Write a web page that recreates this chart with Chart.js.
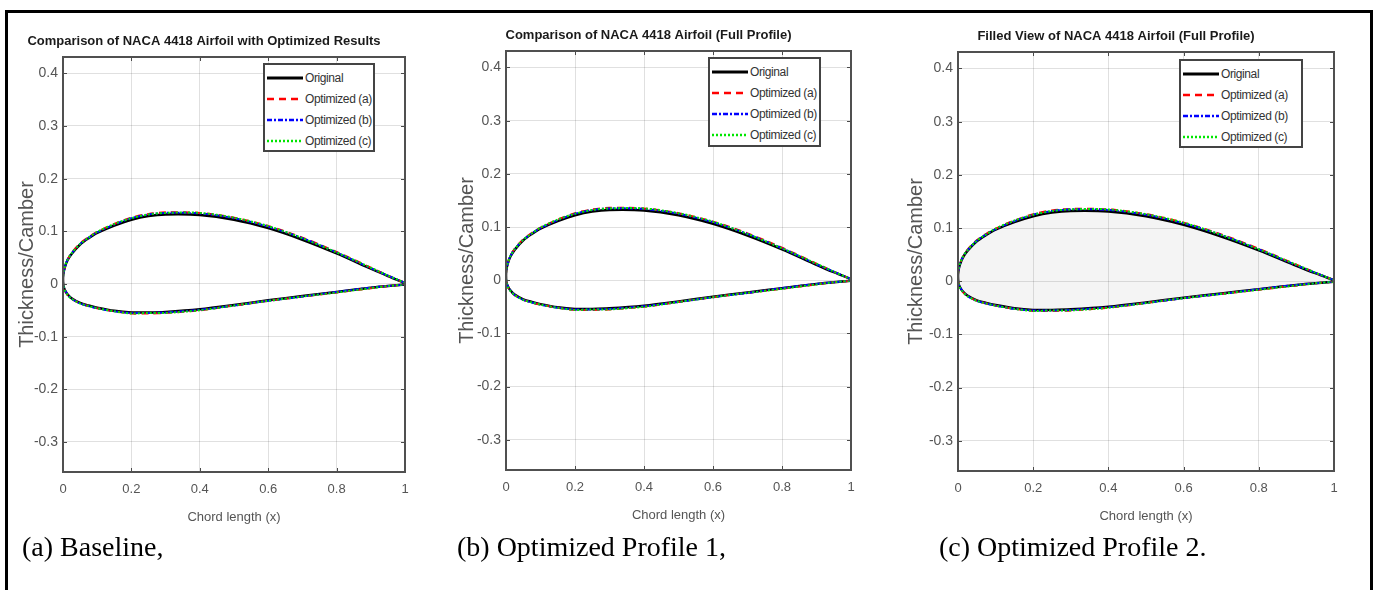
<!DOCTYPE html>
<html>
<head>
<meta charset="utf-8">
<script src="https://cdn.jsdelivr.net/npm/chart.js@4.4.1/dist/chart.umd.min.js"></script>
<style>
    body { margin: 0; width: 1377px; height: 590px; overflow: hidden; position: relative; background: #fff; }
    .frame { position: absolute; left: 5px; top: 10px; width: 1362px; height: 600px; border: 3px solid #000; border-bottom: none; }
    .panel { position: absolute; }
    .legend { position: absolute; background: #fff; border: 2px solid #444; box-sizing: border-box; padding: 2px 0 0 2px; }
    .legend-row { display: flex; align-items: center; height: 21px; }
    .legend-row svg { flex-shrink: 0; }
    .legend-row span { font-family: 'Liberation Sans', Arial, sans-serif; font-size: 12px; color: #333; margin-left: 2px; white-space: nowrap; letter-spacing: -0.4px; }
    .caption { position: absolute; top: 531px; font-family: 'Liberation Serif', 'Times New Roman', serif; font-size: 28px; line-height: 32px; color: #000; white-space: nowrap; }
</style>
</head>
<body>
<div class="frame"></div>
<div id="root"></div>
<script>
// tick values and labels
const xTicks = [0, 0.2, 0.4, 0.6, 0.8, 1];
const yTicks = [-0.3, -0.2, -0.1, 0, 0.1, 0.2, 0.3, 0.4];

const seriesNames = ['Original', 'Optimized (a)', 'Optimized (b)', 'Optimized (c)'];
const panelTitles = [
    'Comparison of NACA 4418 Airfoil with Optimized Results',
    'Comparison of NACA 4418 Airfoil (Full Profile)',
    'Filled View of NACA 4418 Airfoil (Full Profile)'
];
const captions = ['(a) Baseline,', '(b) Optimized Profile 1,', '(c) Optimized Profile 2.'];

// airfoil outline: upper surface TE -> LE, then lower surface LE -> TE
const chordX = [1.0, 0.95, 0.9, 0.8, 0.7, 0.6, 0.5, 0.4, 0.3, 0.25, 0.2, 0.15, 0.1, 0.075, 0.05, 0.025, 0.0125, 0.005, 0.001, 0.0,
                0.001, 0.005, 0.0125, 0.025, 0.05, 0.075, 0.1, 0.15, 0.2, 0.25, 0.3, 0.4, 0.5, 0.6, 0.7, 0.8, 0.9, 0.95, 1.0];

const yOriginal = [0.002, 0.015, 0.029, 0.058, 0.084, 0.106, 0.122, 0.131, 0.132, 0.129, 0.122, 0.111, 0.097, 0.087, 0.075, 0.057, 0.044, 0.031, 0.019, 0.009,
                   -0.003, -0.011, -0.019, -0.027, -0.036, -0.041, -0.045, -0.051, -0.054, -0.054, -0.053, -0.048, -0.040, -0.031, -0.023, -0.015, -0.007, -0.004, -0.001];
const yOptA = [0.002, 0.016, 0.031, 0.061, 0.088, 0.110, 0.126, 0.135, 0.136, 0.133, 0.126, 0.114, 0.099, 0.089, 0.077, 0.059, 0.045, 0.032, 0.020, 0.009,
               -0.003, -0.012, -0.020, -0.028, -0.037, -0.042, -0.046, -0.052, -0.056, -0.056, -0.055, -0.050, -0.041, -0.032, -0.024, -0.016, -0.008, -0.004, -0.001];
const yOptB = [0.002, 0.016, 0.030, 0.060, 0.087, 0.109, 0.125, 0.134, 0.135, 0.132, 0.125, 0.113, 0.098, 0.088, 0.076, 0.058, 0.045, 0.031, 0.019, 0.009,
               -0.003, -0.011, -0.019, -0.028, -0.037, -0.042, -0.046, -0.052, -0.055, -0.055, -0.054, -0.049, -0.041, -0.032, -0.024, -0.015, -0.007, -0.004, -0.001];
const yOptC = [0.002, 0.016, 0.031, 0.060, 0.087, 0.110, 0.126, 0.135, 0.135, 0.132, 0.125, 0.114, 0.099, 0.088, 0.076, 0.058, 0.045, 0.032, 0.020, 0.009,
               -0.003, -0.012, -0.020, -0.028, -0.037, -0.042, -0.046, -0.052, -0.056, -0.055, -0.055, -0.050, -0.041, -0.032, -0.024, -0.016, -0.008, -0.004, -0.001];

const seriesY = [yOriginal, yOptA, yOptB, yOptC];

const lineStyles = [
    { color: '#000000', width: 2.5, dash: [] },
    { color: '#ff0000', width: 2, dash: [7, 5] },
    { color: '#0000ff', width: 2, dash: [5, 2, 2, 2] },
    { color: '#00e600', width: 2, dash: [2, 2] }
];

// plot area boxes in page pixels (left, right, top, bottom) + legend boxes
const panels = [
    { L: 63,  R: 405,  T: 57, B: 472, yTitlePad: 12, legend: { x: 263,  y: 63, w: 112, h: 89 }, capX: 22 },
    { L: 506, R: 851,  T: 51, B: 470, yTitlePad: 9,  legend: { x: 708,  y: 57, w: 113, h: 90 }, capX: 457 },
    { L: 958, R: 1334, T: 52, B: 471, yTitlePad: 6,  legend: { x: 1179, y: 59, w: 124, h: 89 }, capX: 939 }
];

const sans = "'Liberation Sans', Arial, sans-serif";
const SIDE = 60, TOP = 40, BOTTOM = 62;

// MATLAB style box with inward ticks
const boxPlugin = {
    id: 'axesBox',
    afterDatasetsDraw(chart) {
        const { ctx, chartArea: a, scales } = chart;
        ctx.save();
        ctx.strokeStyle = '#4a4a4a';
        ctx.lineWidth = 1;
        xTicks.forEach(v => {
            const px = Math.round(scales.x.getPixelForValue(v)) + 0.5;
            ctx.beginPath();
            ctx.moveTo(px, a.bottom); ctx.lineTo(px, a.bottom - 4);
            ctx.moveTo(px, a.top); ctx.lineTo(px, a.top + 4);
            ctx.stroke();
        });
        yTicks.forEach(v => {
            const py = Math.round(scales.y.getPixelForValue(v)) + 0.5;
            ctx.beginPath();
            ctx.moveTo(a.left, py); ctx.lineTo(a.left + 4, py);
            ctx.moveTo(a.right, py); ctx.lineTo(a.right - 4, py);
            ctx.stroke();
        });
        ctx.lineWidth = 2;
        ctx.strokeStyle = '#505050';
        ctx.strokeRect(a.left, a.top, a.right - a.left, a.bottom - a.top);
        ctx.restore();
    }
};

function buildDatasets(filled) {
    return seriesY.map((ys, i) => ({
        label: seriesNames[i],
        data: chordX.map((x, k) => ({ x: x, y: ys[k] })),
        borderColor: lineStyles[i].color,
        borderWidth: lineStyles[i].width,
        borderDash: lineStyles[i].dash,
        pointRadius: 0,
        tension: 0.3,
        order: 3 - i,   // green ends up on top
        fill: (filled && i === 0) ? 'shape' : false,
        backgroundColor: (filled && i === 0) ? 'rgba(0,0,0,0.045)' : 'transparent'
    }));
}

function makeLegend(box) {
    const div = document.createElement('div');
    div.className = 'legend';
    Object.assign(div.style, { left: box.x + 'px', top: box.y + 'px', width: box.w + 'px', height: box.h + 'px' });
    seriesNames.forEach((name, i) => {
        const st = lineStyles[i];
        const row = document.createElement('div');
        row.className = 'legend-row';
        row.innerHTML = `<svg width="36" height="6"><line x1="0" y1="3" x2="36" y2="3" stroke="${st.color}" stroke-width="${i === 0 ? 3 : 2.5}" stroke-dasharray="${st.dash.join(' ')}"/></svg><span>${name}</span>`;
        div.appendChild(row);
    });
    return div;
}

const root = document.getElementById('root');

panels.forEach((p, idx) => {
    const wrap = document.createElement('div');
    wrap.className = 'panel';
    const w = p.R - p.L + SIDE * 2, h = p.B - p.T + TOP + BOTTOM;
    Object.assign(wrap.style, { left: (p.L - SIDE) + 'px', top: (p.T - TOP) + 'px', width: w + 'px', height: h + 'px' });
    const canvas = document.createElement('canvas');
    wrap.appendChild(canvas);
    root.appendChild(wrap);

    new Chart(canvas, {
        type: 'line',
        data: { datasets: buildDatasets(idx === 2) },
        options: {
            responsive: true,
            maintainAspectRatio: false,
            animation: false,
            events: [],
            layout: { padding: { left: 0, right: SIDE, top: 0, bottom: 0 } },
            plugins: {
                legend: { display: false },
                tooltip: { enabled: false },
                title: {
                    display: true,
                    text: panelTitles[idx],
                    color: '#1a1a1a',
                    font: { family: sans, size: 13, weight: 'bold' },
                    padding: { top: 16.2, bottom: 8.2 }
                }
            },
            scales: {
                x: {
                    type: 'linear',
                    min: 0, max: 1,
                    afterBuildTicks: s => { s.ticks = xTicks.map(v => ({ value: v })); },
                    afterFit: s => { s.height = BOTTOM; },
                    border: { display: false },
                    grid: { color: 'rgba(0,0,0,0.12)', drawTicks: false },
                    ticks: {
                        color: '#555', padding: 10,
                        font: { family: sans, size: 13 },
                        callback: v => String(Math.round(v * 10) / 10)
                    },
                    title: {
                        display: true, text: 'Chord length (x)', color: '#555',
                        font: { family: sans, size: 13 },
                        padding: { top: 0, bottom: 9 }
                    }
                },
                y: {
                    type: 'linear',
                    min: -0.357, max: 0.431,
                    afterBuildTicks: s => { s.ticks = yTicks.map(v => ({ value: v })); },
                    afterFit: s => { s.width = SIDE; },
                    border: { display: false },
                    grid: { color: 'rgba(0,0,0,0.12)', drawTicks: false },
                    ticks: {
                        color: '#555', padding: 5,
                        font: { family: sans, size: 14 },
                        callback: v => String(Math.round(v * 10) / 10)
                    },
                    title: {
                        display: true, text: 'Thickness/Camber', color: '#555',
                        font: { family: sans, size: 20 },
                        padding: { top: p.yTitlePad, bottom: 0 }
                    }
                }
            }
        },
        plugins: [boxPlugin]
    });

    root.appendChild(makeLegend(p.legend));

    const cap = document.createElement('div');
    cap.className = 'caption';
    cap.style.left = p.capX + 'px';
    cap.textContent = captions[idx];
    root.appendChild(cap);
});
</script>
</body>
</html>
